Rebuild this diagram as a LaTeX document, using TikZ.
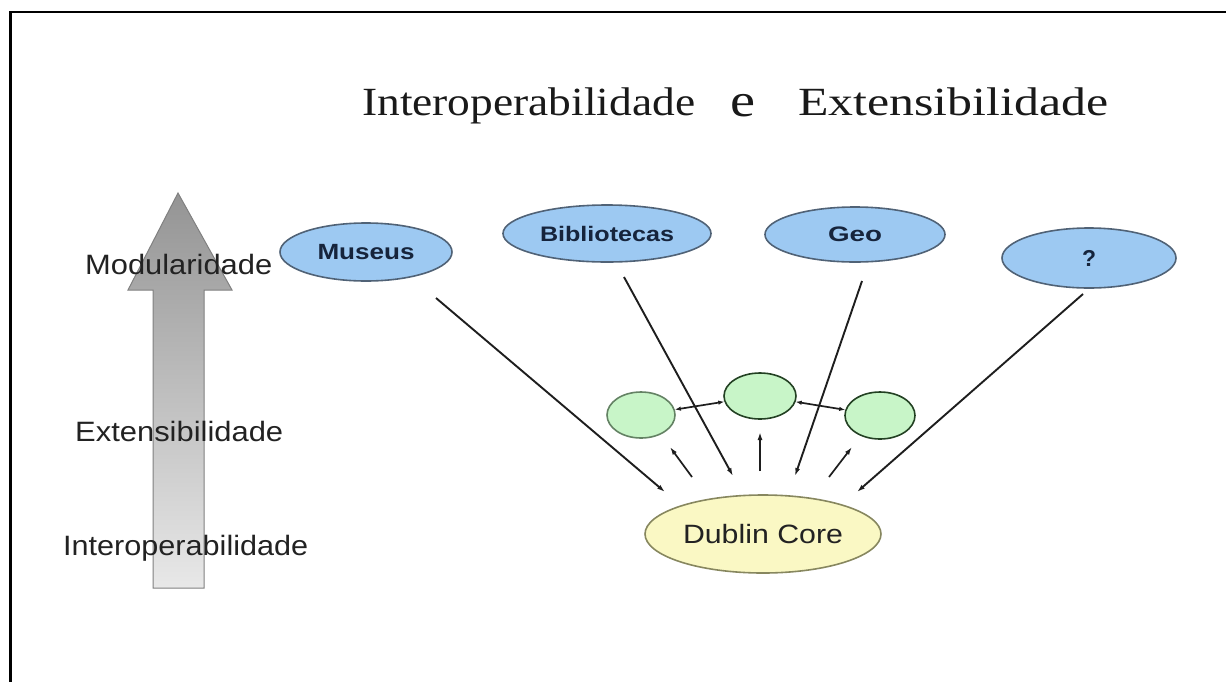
\documentclass[tikz,border=0pt]{standalone}
\usepackage{fontspec}
\setmainfont{Liberation Serif}
\setsansfont{Liberation Sans}
\usepackage{graphicx}
\usetikzlibrary{arrows.meta,shapes.geometric}

% text set at a given size and stretched horizontally to a given width
\newcommand\fitto[3]{\resizebox{#1}{\height}{\fontsize{#2}{#2}\selectfont #3}}

\definecolor{bluefill}{RGB}{157,201,242}
\definecolor{blueedge}{RGB}{80,98,118}
\definecolor{bluetext}{RGB}{22,36,60}
\definecolor{dcfill}{RGB}{250,248,196}
\definecolor{dcedge}{RGB}{135,135,95}
\definecolor{greenfill}{RGB}{200,245,200}
\definecolor{greenedge}{RGB}{35,65,35}
\definecolor{greenedgelight}{RGB}{100,130,100}
\definecolor{linecol}{RGB}{30,30,30}
\definecolor{labelcol}{RGB}{34,34,34}

\tikzset{
  areabox/.style={ellipse, draw=blueedge, fill=bluefill, line width=1.6pt,
    inner sep=0pt, text=bluetext, font=\sffamily\bfseries},
  corebox/.style={ellipse, draw=dcedge, fill=dcfill, line width=1.6pt,
    inner sep=0pt, text=labelcol, font=\sffamily},
  extbox/.style={ellipse, draw=greenedge, fill=greenfill, line width=1.6pt,
    inner sep=0pt},
  sidelabel/.style={anchor=base west, inner sep=0pt, text=labelcol, font=\sffamily},
  titletext/.style={anchor=base west, inner sep=0pt, text=black!90},
  link/.style={draw=linecol, line width=1.9pt, -{Latex[length=8pt,width=5pt]}},
  twoway/.style={draw=linecol, line width=1.7pt,
    {Latex[length=6pt,width=4.5pt]}-{Latex[length=6pt,width=4.5pt]}},
}

\begin{document}
\begin{tikzpicture}[x=1pt,y=-1pt]
\useasboundingbox (0,0) rectangle (1226,681);

% frame
\draw[line width=2.2pt, line cap=rect] (1226,12) -- (10.5,12) -- (10.5,681);

% title
\node[titletext] (t1) at (362,115) {\fitto{333pt}{40}{Interoperabilidade}};
\node[titletext] (t2) at (730,116.5) {\fitto{25pt}{47}{e}};
\node[titletext] (t3) at (798,115) {\fitto{310pt}{40}{Extensibilidade}};

% big shaded upward arrow
\shade[top color=black!42, bottom color=black!9, draw=black!50, line width=1pt]
  (178,193) -- (232,290) -- (204,290) -- (204,588) -- (153,588) -- (153,290)
  -- (128,290) -- cycle;

% levels along the arrow
\node[sidelabel] (lmod) at (85,274) {\fitto{187pt}{28}{Modularidade}};
\node[sidelabel] (lext) at (75,441) {\fitto{208pt}{28}{Extensibilidade}};
\node[sidelabel] (lint) at (63,555) {\fitto{245pt}{28}{Interoperabilidade}};

% application areas
\node[areabox, minimum width=172pt, minimum height=58pt] (mus) at (366,252)
  {\fitto{97pt}{22}{Museus}};
\node[areabox, minimum width=208pt, minimum height=57pt] (bib) at (607,233.5)
  {\fitto{134pt}{21}{Bibliotecas}};
\node[areabox, minimum width=180pt, minimum height=55pt] (geo) at (855,234.5)
  {\fitto{54pt}{21}{Geo}};
\node[areabox, minimum width=174pt, minimum height=60pt] (unk) at (1089,258)
  {\fitto{14pt}{23}{?}};

% core element set
\node[corebox, minimum width=236pt, minimum height=78pt] (dc) at (763,534)
  {\fitto{160pt}{26.5}{Dublin Core}};

% extension modules
\node[extbox, draw=greenedgelight, minimum width=68pt, minimum height=46pt] (g1) at (641,415) {};
\node[extbox, minimum width=72pt, minimum height=46pt] (g2) at (760,396) {};
\node[extbox, minimum width=70pt, minimum height=47pt] (g3) at (880,415.5) {};

% connector end points
\coordinate (mus-o) at (436,298);
\coordinate (bib-o) at (624,277);
\coordinate (geo-o) at (862,281);
\coordinate (unk-o) at (1083,294);
\coordinate (dc-1) at (665,492);
\coordinate (dc-2) at (733,476);
\coordinate (dc-3) at (795,476);
\coordinate (dc-4) at (857,492);
\coordinate (dc-5) at (692,477);
\coordinate (dc-6) at (760,471);
\coordinate (dc-7) at (829,477);
\coordinate (g1-i) at (670,447);
\coordinate (g2-i) at (760,432);
\coordinate (g3-i) at (852,447);

% areas mapped onto the core
\draw[link] (mus-o) -- (dc-1);
\draw[link] (bib-o) -- (dc-2);
\draw[link] (geo-o) -- (dc-3);
\draw[link] (unk-o) -- (dc-4);

% core extended by modules
\draw[link, line width=1.7pt] (dc-5) -- (g1-i);
\draw[link, line width=1.7pt] (dc-6) -- (g2-i);
\draw[link, line width=1.7pt] (dc-7) -- (g3-i);

% links between modules
\draw[twoway] (g1) -- (g2);
\draw[twoway] (g2) -- (g3);
\end{tikzpicture}
\end{document}
